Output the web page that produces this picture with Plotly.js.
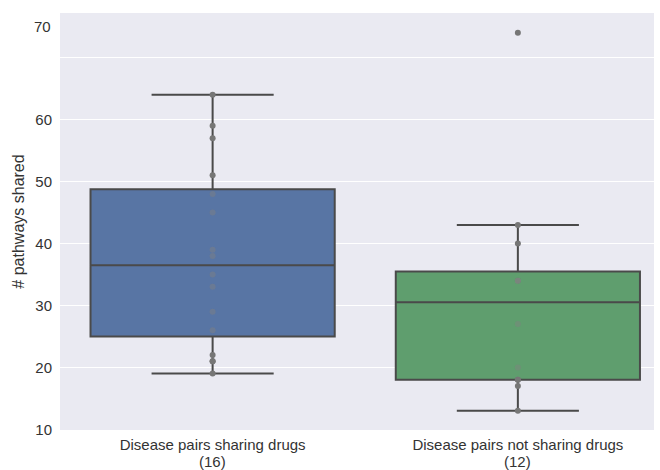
<!DOCTYPE html>
<html>
<head>
<meta charset="utf-8">
<script src="https://cdn.plot.ly/plotly-3.0.1.min.js"></script>
<style>
  html, body { margin: 0; padding: 0; background: #ffffff; }
  #chart { width: 660px; height: 470px; }
</style>
</head>
<body>
<div id="chart"></div>
<script>
// ---- data ----
const categories = ['Disease pairs sharing drugs', 'Disease pairs not sharing drugs'];
const sharingDrugs = [64, 59, 57, 51, 48, 45, 39, 38, 35, 33, 29, 26, 22, 21, 21, 19];
const notSharingDrugs = [74, 43, 40, 34, 34, 34, 27, 20, 18, 18, 17, 13];
const yTickVals = [10, 20, 30, 40, 50, 60, 70];
const yTickText = ['10', '20', '30', '40', '50', '60', ''];

// ---- styles ----
const fills = ['#5875a4', '#5f9e6e'];
const edge = '#4a4a4a';
const fontFam = 'Liberation Sans, Arial, sans-serif';

function percentile(sorted, p) {
  const idx = p * (sorted.length - 1);
  const lo = Math.floor(idx), hi = Math.ceil(idx);
  return sorted[lo] + (sorted[hi] - sorted[lo]) * (idx - lo);
}
function stats(arr) {
  const s = arr.slice().sort((a, b) => a - b);
  const q1 = percentile(s, 0.25), med = percentile(s, 0.5), q3 = percentile(s, 0.75);
  const iqr = q3 - q1;
  const lo = Math.min(...s.filter(v => v >= q1 - 1.5 * iqr));
  const hi = Math.max(...s.filter(v => v <= q3 + 1.5 * iqr));
  return { q1, med, q3, lo, hi };
}

const groups = [sharingDrugs, notSharingDrugs];
const traces = [];
groups.forEach((arr, i) => {
  const st = stats(arr);
  traces.push({
    type: 'box',
    x: [i],
    q1: [st.q1], median: [st.med], q3: [st.q3],
    lowerfence: [st.lo], upperfence: [st.hi],
    width: 0.8,
    whiskerwidth: 0.5,
    fillcolor: fills[i],
    line: { color: edge, width: 2 },
    boxpoints: false,
    hoverinfo: 'skip',
    showlegend: false
  });
});
groups.forEach((arr, i) => {
  const st = stats(arr);
  traces.push({
    type: 'scatter',
    mode: 'markers',
    x: arr.map(() => i),
    y: arr,
    marker: {
      size: 6,
      color: arr.map(v => (v > st.q1 && v < st.q3) ? 'rgba(128,128,128,0.45)' : 'rgba(118,118,118,1)')
    },
    hoverinfo: 'skip',
    showlegend: false
  });
});

const annotations = groups.map((arr, i) => ({
  xref: 'x', yref: 'paper', x: i, y: 0,
  yanchor: 'top', yshift: -21,
  text: '(' + arr.length + ')',
  showarrow: false,
  font: { family: fontFam, size: 15, color: '#333333' }
}));
annotations.push({
  xref: 'paper', yref: 'y', x: 0, y: 75,
  xanchor: 'right', xshift: -7,
  text: '70', showarrow: false,
  font: { family: fontFam, size: 15, color: '#333333' }
});

const layout = {
  width: 660, height: 470,
  margin: { l: 60, r: 6, t: 13, b: 40 },
  paper_bgcolor: '#ffffff',
  plot_bgcolor: '#eaeaf2',
  font: { family: fontFam, color: '#333333' },
  showlegend: false,
  xaxis: {
    range: [-0.5, 1.446],
    tickvals: [0, 1],
    ticktext: categories,
    showgrid: false,
    zeroline: false,
    showline: false,
    ticks: '',
    ticklabelstandoff: 4,
    tickfont: { family: fontFam, size: 15, color: '#333333' },
    fixedrange: true
  },
  yaxis: {
    range: [9.9, 77.2],
    tickvals: yTickVals,
    ticktext: yTickText,
    showgrid: true,
    gridcolor: '#ffffff',
    gridwidth: 1.5,
    zeroline: false,
    showline: false,
    ticks: '',
    ticklabelstandoff: 7,
    tickfont: { family: fontFam, size: 15, color: '#333333' },
    title: { text: '# pathways shared', font: { family: fontFam, size: 16, color: '#333333' }, standoff: 6 },
    fixedrange: true
  },
  annotations: annotations
};

Plotly.newPlot('chart', traces, layout, { displayModeBar: false, staticPlot: true });
</script>
</body>
</html>
